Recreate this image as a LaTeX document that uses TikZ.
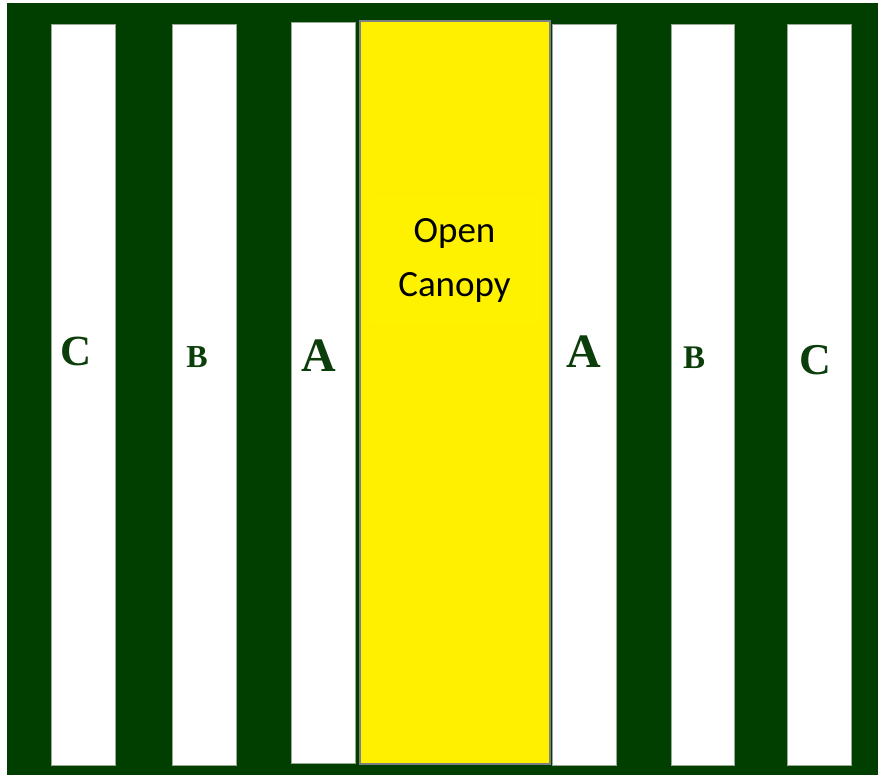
\documentclass[tikz,border=0pt]{standalone}
\usepackage{fontspec}
\setmainfont{Liberation Serif}
\newfontfamily\canopyfont{Carlito}

\definecolor{lesgreen}{RGB}{0,63,0}
\definecolor{pismeno}{RGB}{12,62,12}
\definecolor{okraj}{RGB}{150,170,150}
\definecolor{zluta}{RGB}{255,240,0}

\begin{document}
\begin{tikzpicture}[x=1pt, y=-1pt,
        pruh/.style={fill=white, draw=okraj, line width=0.8pt},
        zona/.style={font=\bfseries, text=pismeno, inner sep=0pt, anchor=base}]
        \useasboundingbox (0,0) rectangle (878,775);

        % pozadi
        \fill[lesgreen] (7,3) rectangle (878,775);

        % pruhy
        \filldraw[pruh] (51,24) rectangle (115,765);
        \filldraw[pruh] (172,24) rectangle (236,765);
        \filldraw[pruh] (291,22) rectangle (355,763);
        \filldraw[pruh] (552,24) rectangle (616,765);
        \filldraw[pruh] (671,24) rectangle (734,765);
        \filldraw[pruh] (787,24) rectangle (851,765);

        % otevreny zapoj
        \filldraw[fill=zluta, draw=gray, line width=1.5pt] (360,21) rectangle (550,764);
        \fill[yellow] (369,197) rectangle (540,324);
        \node[align=center, font={\canopyfont\fontsize{37}{54}\selectfont}] (open) at (454.5,260.5) {Open\\Canopy};

        % popisky
        \node[zona, font={\bfseries\fontsize{43}{43}\selectfont}] (cl) at (76,366) {C};
        \node[zona, font={\bfseries\fontsize{32}{32}\selectfont}] (bl) at (197,367) {B};
        \node[zona, font={\bfseries\fontsize{48}{48}\selectfont}] (al) at (319,372) {A};
        \node[zona, font={\bfseries\fontsize{48}{48}\selectfont}] (ar) at (584,367) {A};
        \node[zona, font={\bfseries\fontsize{33}{33}\selectfont}] (br) at (694,369) {B};
        \node[zona, font={\bfseries\fontsize{44}{44}\selectfont}] (cr) at (815,374) {C};

    \end{tikzpicture}
\end{document}
